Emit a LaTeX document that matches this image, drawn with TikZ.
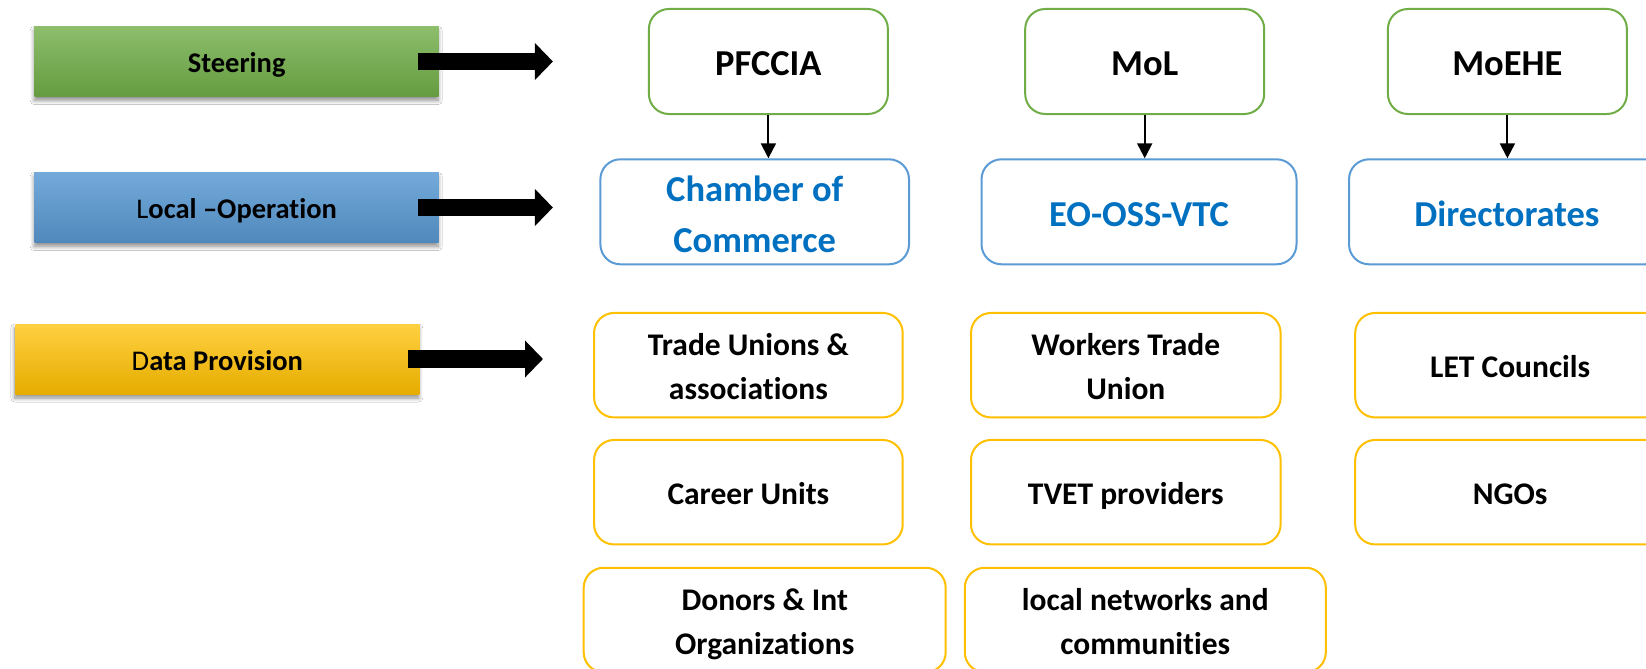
\documentclass[tikz,border=0pt]{standalone}
\usepackage{fontspec}
\setmainfont{Carlito}[Ligatures=NoCommon]
\usetikzlibrary{arrows.meta,shadows.blur}

\definecolor{greenline}{HTML}{70AD47}
\definecolor{blueline}{HTML}{5B9BD5}
\definecolor{yellowline}{HTML}{FFC000}
\definecolor{bluetext}{HTML}{0070C0}

\tikzset{
  levelbar/.style={minimum width=404pt, minimum height=70pt, inner sep=0pt,
    text height=22pt, text depth=0pt,
    font=\fontsize{28.5}{34}\selectfont\bfseries,
    blur shadow={shadow xshift=-0.5pt, shadow yshift=-4pt, shadow blur radius=4pt,
      shadow blur steps=10, shadow opacity=45}},
  greenbar/.style={levelbar, top color=greenline!80!white, middle color=greenline, bottom color=greenline!90!black},
  bluebar/.style={levelbar, top color=blueline!85!white, middle color=blueline, bottom color=blueline!88!black},
  yellowbar/.style={levelbar, top color=yellowline!75!white, middle color=yellowline, bottom color=yellowline!90!black},
  orgbox/.style={draw, line width=2pt, rounded corners=20pt, inner sep=0pt, align=center, text depth=0pt},
  steerbox/.style={orgbox, draw=greenline, minimum width=239pt, minimum height=105pt,
    text height=29pt, font=\fontsize{36.5}{51}\selectfont\bfseries},
  opbox/.style={orgbox, draw=blueline, minimum height=105pt, text=bluetext,
    text height=30pt, font=\fontsize{36.5}{51.5}\selectfont\bfseries},
  twoline/.style={text height=81.5pt},
  databox/.style={orgbox, draw=yellowline, minimum height=104.5pt,
    text height=25.5pt, font=\fontsize{31.5}{44}\selectfont\bfseries},
  twolinedata/.style={text height=69.5pt},
  bigarrow/.style={line width=17.5pt, -{Triangle[width=36pt,length=18pt]}},
  downarrow/.style={line width=2pt, -{Triangle[width=15pt,length=15pt]}}
}

\begin{document}
\begin{tikzpicture}[x=1pt,y=-1pt]
\useasboundingbox (0,0) rectangle (1646,669);
\fill[white] (0,0) rectangle (1646,669);

% level labels on the left
\node[greenbar]  (steer) at (236.7,61.5)  {Steering};
\node[bluebar]   (local) at (236.7,207.5) {{\mdseries L}ocal –Operation};
\node[yellowbar] (data)  at (217.3,359)   {{\mdseries D}ata Provision};

% steering level
\node[steerbox] (pfccia) at (768.4,61.5)  {PFCCIA};
\node[steerbox] (mol)    at (1144.7,61.5) {MoL};
\node[steerbox] (moehe)  at (1507.4,61.5) {MoEHE};

% local operation level
\node[opbox, twoline, minimum width=308.6pt] (chamber) at (754.7,211.8) {Chamber of\\Commerce};
\node[opbox, minimum width=315pt]   (eo)      at (1139,211.8)   {EO-OSS-VTC};
\node[opbox, minimum width=316pt]   (dir)     at (1507,211.8)   {Directorates};

% data provision level
\node[databox, twolinedata, minimum width=308.6pt] (trade)   at (748.4,365.2)  {Trade Unions \&\\associations};
\node[databox, twolinedata, minimum width=309.6pt] (workers) at (1125.8,365.2) {Workers Trade\\Union};
\node[databox, minimum width=310pt]   (let)     at (1510.2,365.2) {LET Councils};
\node[databox, minimum width=308.6pt] (career)  at (748.4,492.2)  {Career Units};
\node[databox, minimum width=309.6pt] (tvet)    at (1125.8,492.2) {TVET providers};
\node[databox, minimum width=310pt]   (ngos)    at (1510.2,492.2) {NGOs};
\node[databox, twolinedata, minimum width=362pt]   (donors)  at (764.7,620)  {Donors \& Int\\Organizations};
\node[databox, twolinedata, minimum width=361pt]   (localnet) at (1145.3,620) {local networks and\\communities};

% level arrows
\draw[bigarrow] ([xshift=-21pt]steer.east) -- ([xshift=114pt]steer.east);
\draw[bigarrow] ([xshift=-21pt]local.east) -- ([xshift=114pt]local.east);
\draw[bigarrow] ([xshift=-12pt]data.east)  -- ([xshift=123.5pt]data.east);

% ministries to their local bodies
\draw[downarrow] (pfccia.south) -- (pfccia.south |- chamber.north);
\draw[downarrow] (mol.south)    -- (mol.south |- eo.north);
\draw[downarrow] (moehe.south)  -- (moehe.south |- dir.north);
\end{tikzpicture}
\end{document}
